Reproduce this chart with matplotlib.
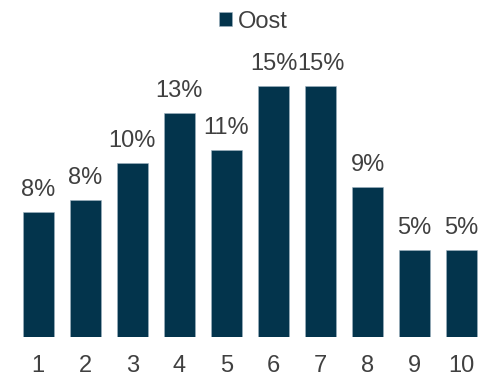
import matplotlib.pyplot as plt
import numpy as np

plt.rcParams['font.family'] = ['Liberation Sans', 'DejaVu Sans']

categories = ['1', '2', '3', '4', '5', '6', '7', '8', '9', '10']
oost = [0.075, 0.082, 0.104, 0.134, 0.112, 0.150, 0.150, 0.090, 0.052, 0.052]
labels = ['8%', '8%', '10%', '13%', '11%', '15%', '15%', '9%', '5%', '5%']

bar_color = '#03344C'
text_color = '#404040'

fig = plt.figure(figsize=(4.79, 3.76), dpi=100)
# axes: baseline ~38.7px from bottom, 16.75px per percent
ax = fig.add_axes([0, 38.7 / 376, 1, 1 - 38.7 / 376])
x = np.arange(len(categories))
bars = ax.bar(x, oost, width=0.666, color=bar_color, edgecolor='#9fb3c0',
              linewidth=0.4, label='Oost')

for xi, v, lab in zip(x, oost, labels):
    ax.annotate(lab, (xi, v), xytext=(0, 11.5), textcoords='offset points',
                ha='center', va='baseline', fontsize=17, color=text_color)

ax.set_xlim(-0.814, 9.369)
ax.set_ylim(0, (376 - 38.7) / 16.75 / 100)
ax.set_xticks(x)
ax.set_xticklabels(categories, fontsize=17, color=text_color)
ax.tick_params(axis='x', length=0, pad=13)
ax.set_yticks([])
for s in ax.spines.values():
    s.set_visible(False)

fig.legend(handles=[bars], labels=['Oost'], loc='upper center',
           bbox_to_anchor=(253.5 / 479, 1.0 + 6 / 376), frameon=False,
           fontsize=17, handlelength=0.55, handleheight=0.55,
           handletextpad=0.25, labelcolor=text_color, borderpad=0.2)

fig.savefig('out.png', dpi=100)
